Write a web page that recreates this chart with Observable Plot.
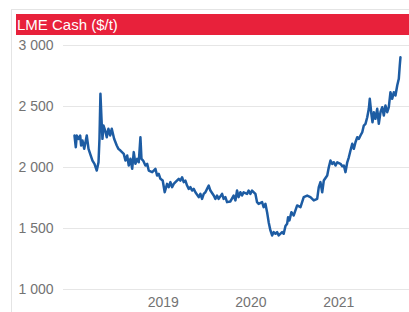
<!DOCTYPE html>
<html>
<head>
<meta charset="utf-8">
<script src="https://cdn.jsdelivr.net/npm/d3@7"></script>
<script src="https://cdn.jsdelivr.net/npm/@observablehq/plot@0.6"></script>
<style>
  html, body { margin: 0; padding: 0; background: #fff; width: 409px; height: 312px; overflow: hidden; }
  #frame { position: absolute; left: 11px; top: 9px; width: 398px; height: 303px; border-left: 1px solid #e4e4e4; border-top: 1px solid #e4e4e4; box-sizing: border-box; }
  #title { position: absolute; left: 16px; top: 14px; width: 393px; height: 21px; background: #e8213b; color: #fff;
           font-family: "Liberation Sans", Arial, sans-serif; font-size: 15px; line-height: 21px; padding-left: 1px; box-sizing: border-box; white-space: nowrap; }
  #chart { position: absolute; left: 0; top: 35px; }
</style>
</head>
<body>
<div id="frame"></div>
<div id="title">LME Cash ($/t)</div>
<div id="chart"></div>
<script>
// Time as decimal years, LME cash price in $/t
const years = [
  2017.988, 2018.003, 2018.014, 2018.034, 2018.053, 2018.064, 2018.079, 2018.099, 2018.110, 2018.128,
  2018.148, 2018.167, 2018.193, 2018.216, 2018.242, 2018.262, 2018.273, 2018.284, 2018.296, 2018.307,
  2018.319, 2018.338, 2018.356, 2018.375, 2018.395, 2018.413, 2018.440, 2018.470, 2018.489, 2018.512,
  2018.550, 2018.569, 2018.589, 2018.607, 2018.626, 2018.646, 2018.664, 2018.683, 2018.703, 2018.721,
  2018.740, 2018.752, 2018.771, 2018.797, 2018.817, 2018.835, 2018.874, 2018.892, 2018.911, 2018.930,
  2018.949, 2018.968, 2018.994, 2019.017, 2019.044, 2019.063, 2019.082, 2019.101, 2019.120, 2019.139,
  2019.177, 2019.196, 2019.215, 2019.234, 2019.253, 2019.272, 2019.291, 2019.310, 2019.329, 2019.348,
  2019.367, 2019.405, 2019.424, 2019.443, 2019.462, 2019.481, 2019.500, 2019.519, 2019.538, 2019.576,
  2019.595, 2019.614, 2019.632, 2019.671, 2019.689, 2019.709, 2019.728, 2019.766, 2019.803, 2019.823,
  2019.842, 2019.860, 2019.880, 2019.899, 2019.917, 2019.956, 2019.974, 2019.994, 2020.013, 2020.051,
  2020.070, 2020.088, 2020.127, 2020.145, 2020.165, 2020.184, 2020.202, 2020.222, 2020.241, 2020.259,
  2020.279, 2020.298, 2020.316, 2020.355, 2020.373, 2020.393, 2020.412, 2020.423, 2020.438, 2020.461,
  2020.487, 2020.526, 2020.564, 2020.601, 2020.640, 2020.677, 2020.715, 2020.754, 2020.772, 2020.791,
  2020.811, 2020.829, 2020.868, 2020.886, 2020.905, 2020.925, 2020.943, 2020.962, 2020.982, 2021.019,
  2021.039, 2021.057, 2021.076, 2021.096, 2021.114, 2021.133, 2021.153, 2021.171, 2021.190, 2021.210,
  2021.228, 2021.247, 2021.267, 2021.285, 2021.304, 2021.324, 2021.342, 2021.353, 2021.369, 2021.384,
  2021.399, 2021.418, 2021.438, 2021.456, 2021.475, 2021.495, 2021.513, 2021.532, 2021.552, 2021.570,
  2021.589, 2021.609, 2021.627, 2021.646, 2021.666, 2021.684, 2021.695, 2021.703
];
const prices = [
  2262, 2166, 2262, 2235, 2262, 2180, 2221, 2153, 2194, 2262,
  2153, 2112, 2057, 2030, 1975, 2043, 2235, 2604, 2399, 2235,
  2344, 2303, 2248, 2317, 2262, 2317, 2235, 2180, 2153, 2139,
  2112, 2057, 2098, 2016, 2071, 1989, 2126, 2030, 2071, 2043,
  2248, 2071, 2057, 2016, 2030, 1975, 1962, 1975, 1989, 1934,
  1948, 1907, 1893, 1797, 1866, 1839, 1880, 1839, 1866, 1880,
  1907, 1893, 1920, 1880, 1893, 1852, 1825, 1839, 1811, 1825,
  1797, 1757, 1784, 1743, 1784, 1797, 1825, 1852, 1811, 1770,
  1743, 1770, 1743, 1784, 1743, 1757, 1716, 1722, 1770, 1730,
  1811, 1757, 1797, 1770, 1797, 1784, 1811, 1784, 1811, 1784,
  1716, 1702, 1716, 1675, 1702, 1634, 1552, 1484, 1443, 1470,
  1457, 1470, 1443, 1470, 1457, 1520, 1538, 1593, 1566, 1634,
  1607, 1689, 1675, 1757, 1770, 1757, 1730, 1743, 1839, 1880,
  1797, 1893, 1934, 2002, 2057, 2030, 2043, 2016, 2043, 2030,
  2010, 2016, 1962, 2043, 2084, 2139, 2194, 2153, 2207, 2248,
  2235, 2262, 2289, 2344, 2358, 2412, 2481, 2563, 2453, 2371,
  2453, 2399, 2481, 2358, 2453, 2494, 2426, 2508, 2453, 2494,
  2617, 2563, 2617, 2590, 2672, 2727, 2836, 2904
];
const yTicks = [1000, 1500, 2000, 2500, 3000];
const xTickYears = [2019, 2020, 2021];

function toDate(t) {
  const y = Math.floor(t);
  const a = Date.UTC(y, 0, 1), b = Date.UTC(y + 1, 0, 1);
  return new Date(a + (t - y) * (b - a));
}

const data = years.map((t, i) => ({date: toDate(t), price: prices[i]}));
const fmt = d => d3.format(",")(d).replace(/,/g, " ");

const chart = Plot.plot({
  width: 409,
  height: 277,
  marginLeft: 63,
  marginRight: 0,
  marginTop: 10,
  marginBottom: 23,
  style: {fontFamily: "'Liberation Sans', Arial, sans-serif", fontSize: "14px", color: "#737373", background: "transparent"},
  x: {type: "utc", domain: [toDate(2017.8627), toDate(2021.806)], ticks: xTickYears.map(y => new Date(Date.UTC(y, 0, 1))), tickFormat: d3.utcFormat("%Y"), tickSize: 0, tickPadding: 8, label: null},
  y: {domain: [1000, 3000], ticks: yTicks, tickFormat: fmt, tickSize: 0, tickPadding: 10, label: null},
  marks: [
    Plot.gridY(yTicks, {stroke: "#e6e6e6", strokeOpacity: 1}),
    Plot.line(data, {x: "date", y: "price", stroke: "#1d5ca3", strokeWidth: 2.5, strokeLinejoin: "round"})
  ]
});
document.getElementById("chart").appendChild(chart);
</script>
</body>
</html>
